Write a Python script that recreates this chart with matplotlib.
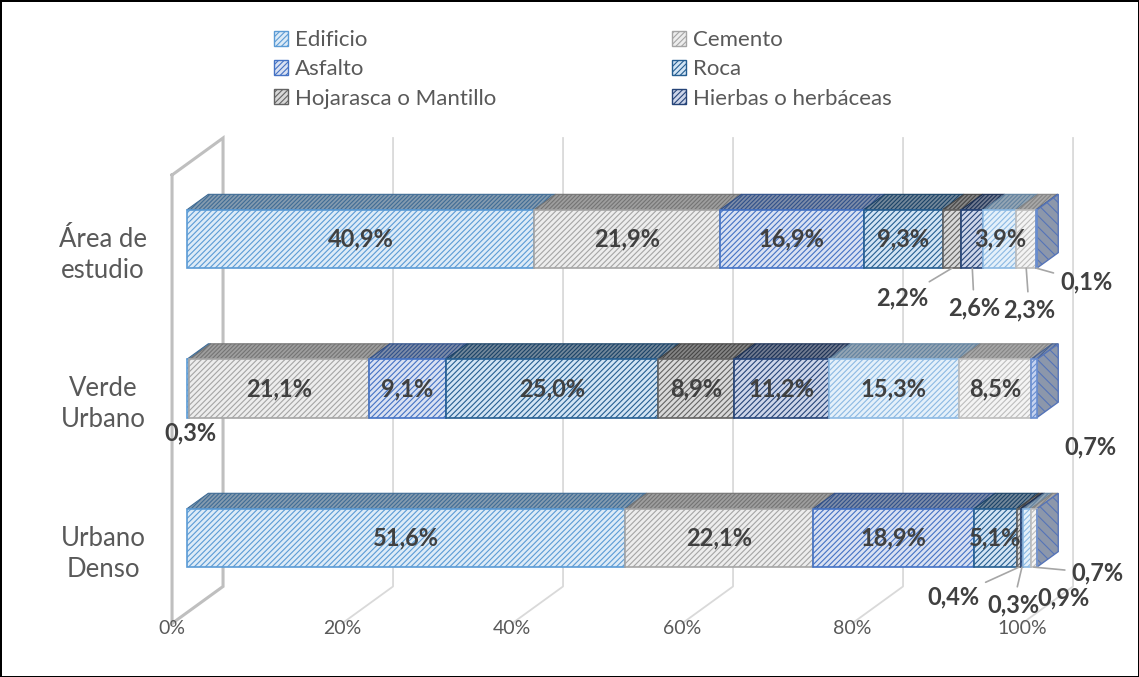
import matplotlib

matplotlib.use("Agg")
import matplotlib.pyplot as plt
import numpy as np
from matplotlib.colors import to_rgb
from matplotlib.patches import Patch, Polygon

# --- data -------------------------------------------------------------------
categories = ["Área de\nestudio", "Verde\nUrbano", "Urbano\nDenso"]
legend_names = ["Edificio", "Cemento", "Asfalto", "Roca",
                "Hojarasca o Mantillo", "Hierbas o herbáceas"]

edificio = [40.9, 0.3, 51.6]
cemento = [21.9, 21.1, 22.1]
asfalto = [16.9, 9.1, 18.9]
roca = [9.3, 25.0, 5.1]
hojarasca = [2.2, 8.9, 0.4]
hierbas = [2.6, 11.2, 0.3]
serie7 = [3.9, 15.3, 0.9]   # series cut off from the legend
serie8 = [2.3, 8.5, 0.7]
serie9 = [0.1, 0.7, 0.0]

tick_values = [0, 20, 40, 60, 80, 100]

# --- style ------------------------------------------------------------------
LINE = ["#5B9BD5", "#A5A5A5", "#4472C4", "#255E91", "#636363",
        "#264478", "#8CB9E3", "#BDBDBD", "#698ED0"]
FILL = ["#DDEBF7", "#EDEDED", "#D9E1F2", "#D2E4F4", "#D9D9D9",
        "#CDD5E9", "#E4F0FA", "#F4F4F4", "#C5D3F0"]

# outside labels: offset (px, downwards) from the segment's bottom centre
OUTSIDE = {
    (0, 4): (-50, 30, True), (0, 5): (2, 40, True), (0, 7): (3, 42, True),
    (0, 8): (50, 14, True),
    (1, 0): (2, 15, False), (1, 8): (57, 29, False),
    (2, 4): (-66, 30, True), (2, 5): (-9, 38, True), (2, 6): (36, 31, False),
    (2, 7): (64, 6, True),
}

DX, DY = 6.0, 0.2475      # full depth of the 3d box in data units
D0, D1 = 0.29, 0.71       # depth range taken by the bars
BAR_H = 0.39

plt.rcParams["font.family"] = ["Lato", "DejaVu Sans"]
plt.rcParams["hatch.linewidth"] = 0.8


def proj(p, c, d):
    return p + DX * (d - D0), c - DY * (d - D0)


def shade(col, f):
    return tuple(np.clip(np.array(to_rgb(col)) * f, 0, 1))


def mix(a, b, t):
    return tuple(np.array(to_rgb(a)) * (1 - t) + np.array(to_rgb(b)) * t)


series = [edificio, cemento, asfalto, roca, hojarasca, hierbas,
          serie7, serie8, serie9]
data = np.array(series, dtype=float)
data = data / data.sum(axis=0) * 100   # 100 % stacked
n_ser, n_cat = data.shape

fig = plt.figure(figsize=(11.39, 6.77), dpi=100)
fig.patch.set_edgecolor("black")
fig.patch.set_linewidth(2)
ax = fig.add_axes([0, 0, 1, 1])
ax.set_xlim(-21.98, 112.02)
ax.set_ylim(2.930, -1.599)
ax.axis("off")

# walls and gridlines
wall = [proj(0, -0.5, 0), proj(0, 2.5, 0), proj(0, 2.5, 1), proj(0, -0.5, 1), proj(0, -0.5, 0)]
ax.plot(*zip(*wall), color="#BFBFBF", lw=2.2, zorder=1, solid_joinstyle="miter")
for p in tick_values[1:]:
    pts = [proj(p, -0.5, 1), proj(p, 2.5, 1), proj(p, 2.5, 0)]
    ax.plot(*zip(*pts), color="#D9D9D9", lw=1.3, zorder=1)
for p in tick_values:
    ax.annotate(f"{p}%", xy=proj(p, 2.5, 0), xytext=(0, -5), textcoords="offset pixels",
                ha="center", va="center", fontsize=14, color="#595959")

# bars
left = np.zeros(n_cat)
for s in range(n_ser):
    vals = data[s]
    ax.barh(range(n_cat), vals, left=left, height=BAR_H, color=FILL[s],
            edgecolor=LINE[s], lw=1.2, hatch="//////", zorder=3)
    for i in range(n_cat):
        v = vals[i]
        if v <= 0:
            continue
        x0, x1 = left[i], left[i] + v
        top = i - BAR_H / 2
        top_face = [(x0, top), (x1, top), proj(x1, top, D1), proj(x0, top, D1)]
        tf = shade(mix(mix(FILL[s], LINE[s], 0.5), "#8C8C8C", 0.35), 0.88)
        ax.add_patch(Polygon(top_face, closed=True, facecolor=tf,
                             edgecolor=shade(LINE[s], 0.7), lw=0.8,
                             hatch="////////", zorder=2))
    left = left + vals

# right side faces
for i in range(n_cat):
    end = left[i]
    top, bot = i - BAR_H / 2, i + BAR_H / 2
    side = [(end, top), (end, bot), proj(end, bot, D1), proj(end, top, D1)]
    ax.add_patch(Polygon(side, closed=True, facecolor="#8C97AB",
                         edgecolor="#5574B8", lw=1.0, hatch="\\\\\\", zorder=2))

# data labels
left = np.zeros(n_cat)
for s in range(n_ser):
    for i in range(n_cat):
        v = data[s, i]
        raw = series[s][i]
        if raw > 0:
            label = f"{raw:.1f}%".replace(".", ",")
            if (i, s) in OUTSIDE:
                dx, dy, leader = OUTSIDE[(i, s)]
                ax.annotate(label, xy=(left[i] + v / 2, i + BAR_H / 2),
                            xytext=(dx, -dy), textcoords="offset pixels",
                            ha="center", va="center", fontsize=17,
                            fontweight="bold", color="#404040", zorder=5,
                            arrowprops=dict(arrowstyle="-", color="#A6A6A6", lw=1.2,
                                            shrinkA=3, shrinkB=0) if leader else None)
            else:
                ax.text(left[i] + v / 2, i, label, ha="center", va="center",
                        fontsize=17, fontweight="bold", color="#404040", zorder=5)
    left = left + data[s]

# category labels
for i, cat in enumerate(categories):
    ax.annotate(cat, xy=proj(0, i, 0), xytext=(-69, -5), textcoords="offset pixels",
                ha="center", va="center", multialignment="center",
                fontsize=18.5, color="#595959", linespacing=1.3)

# legend (row-major order like the original)
handles = [Patch(facecolor=FILL[s], edgecolor=LINE[s], hatch="//////", lw=1)
           for s in range(6)]
order = [0, 2, 4, 1, 3, 5]
fig.legend([handles[k] for k in order], [legend_names[k] for k in order],
           ncol=2, loc="upper left", bbox_to_anchor=(274 / 1139, 1 - 30 / 677),
           frameon=False, fontsize=16, labelcolor="#595959",
           handlelength=0.65, handleheight=0.65, handletextpad=0.3,
           columnspacing=7.9, labelspacing=0.42, borderaxespad=0, borderpad=0)

fig.savefig("out.png", dpi=100)
